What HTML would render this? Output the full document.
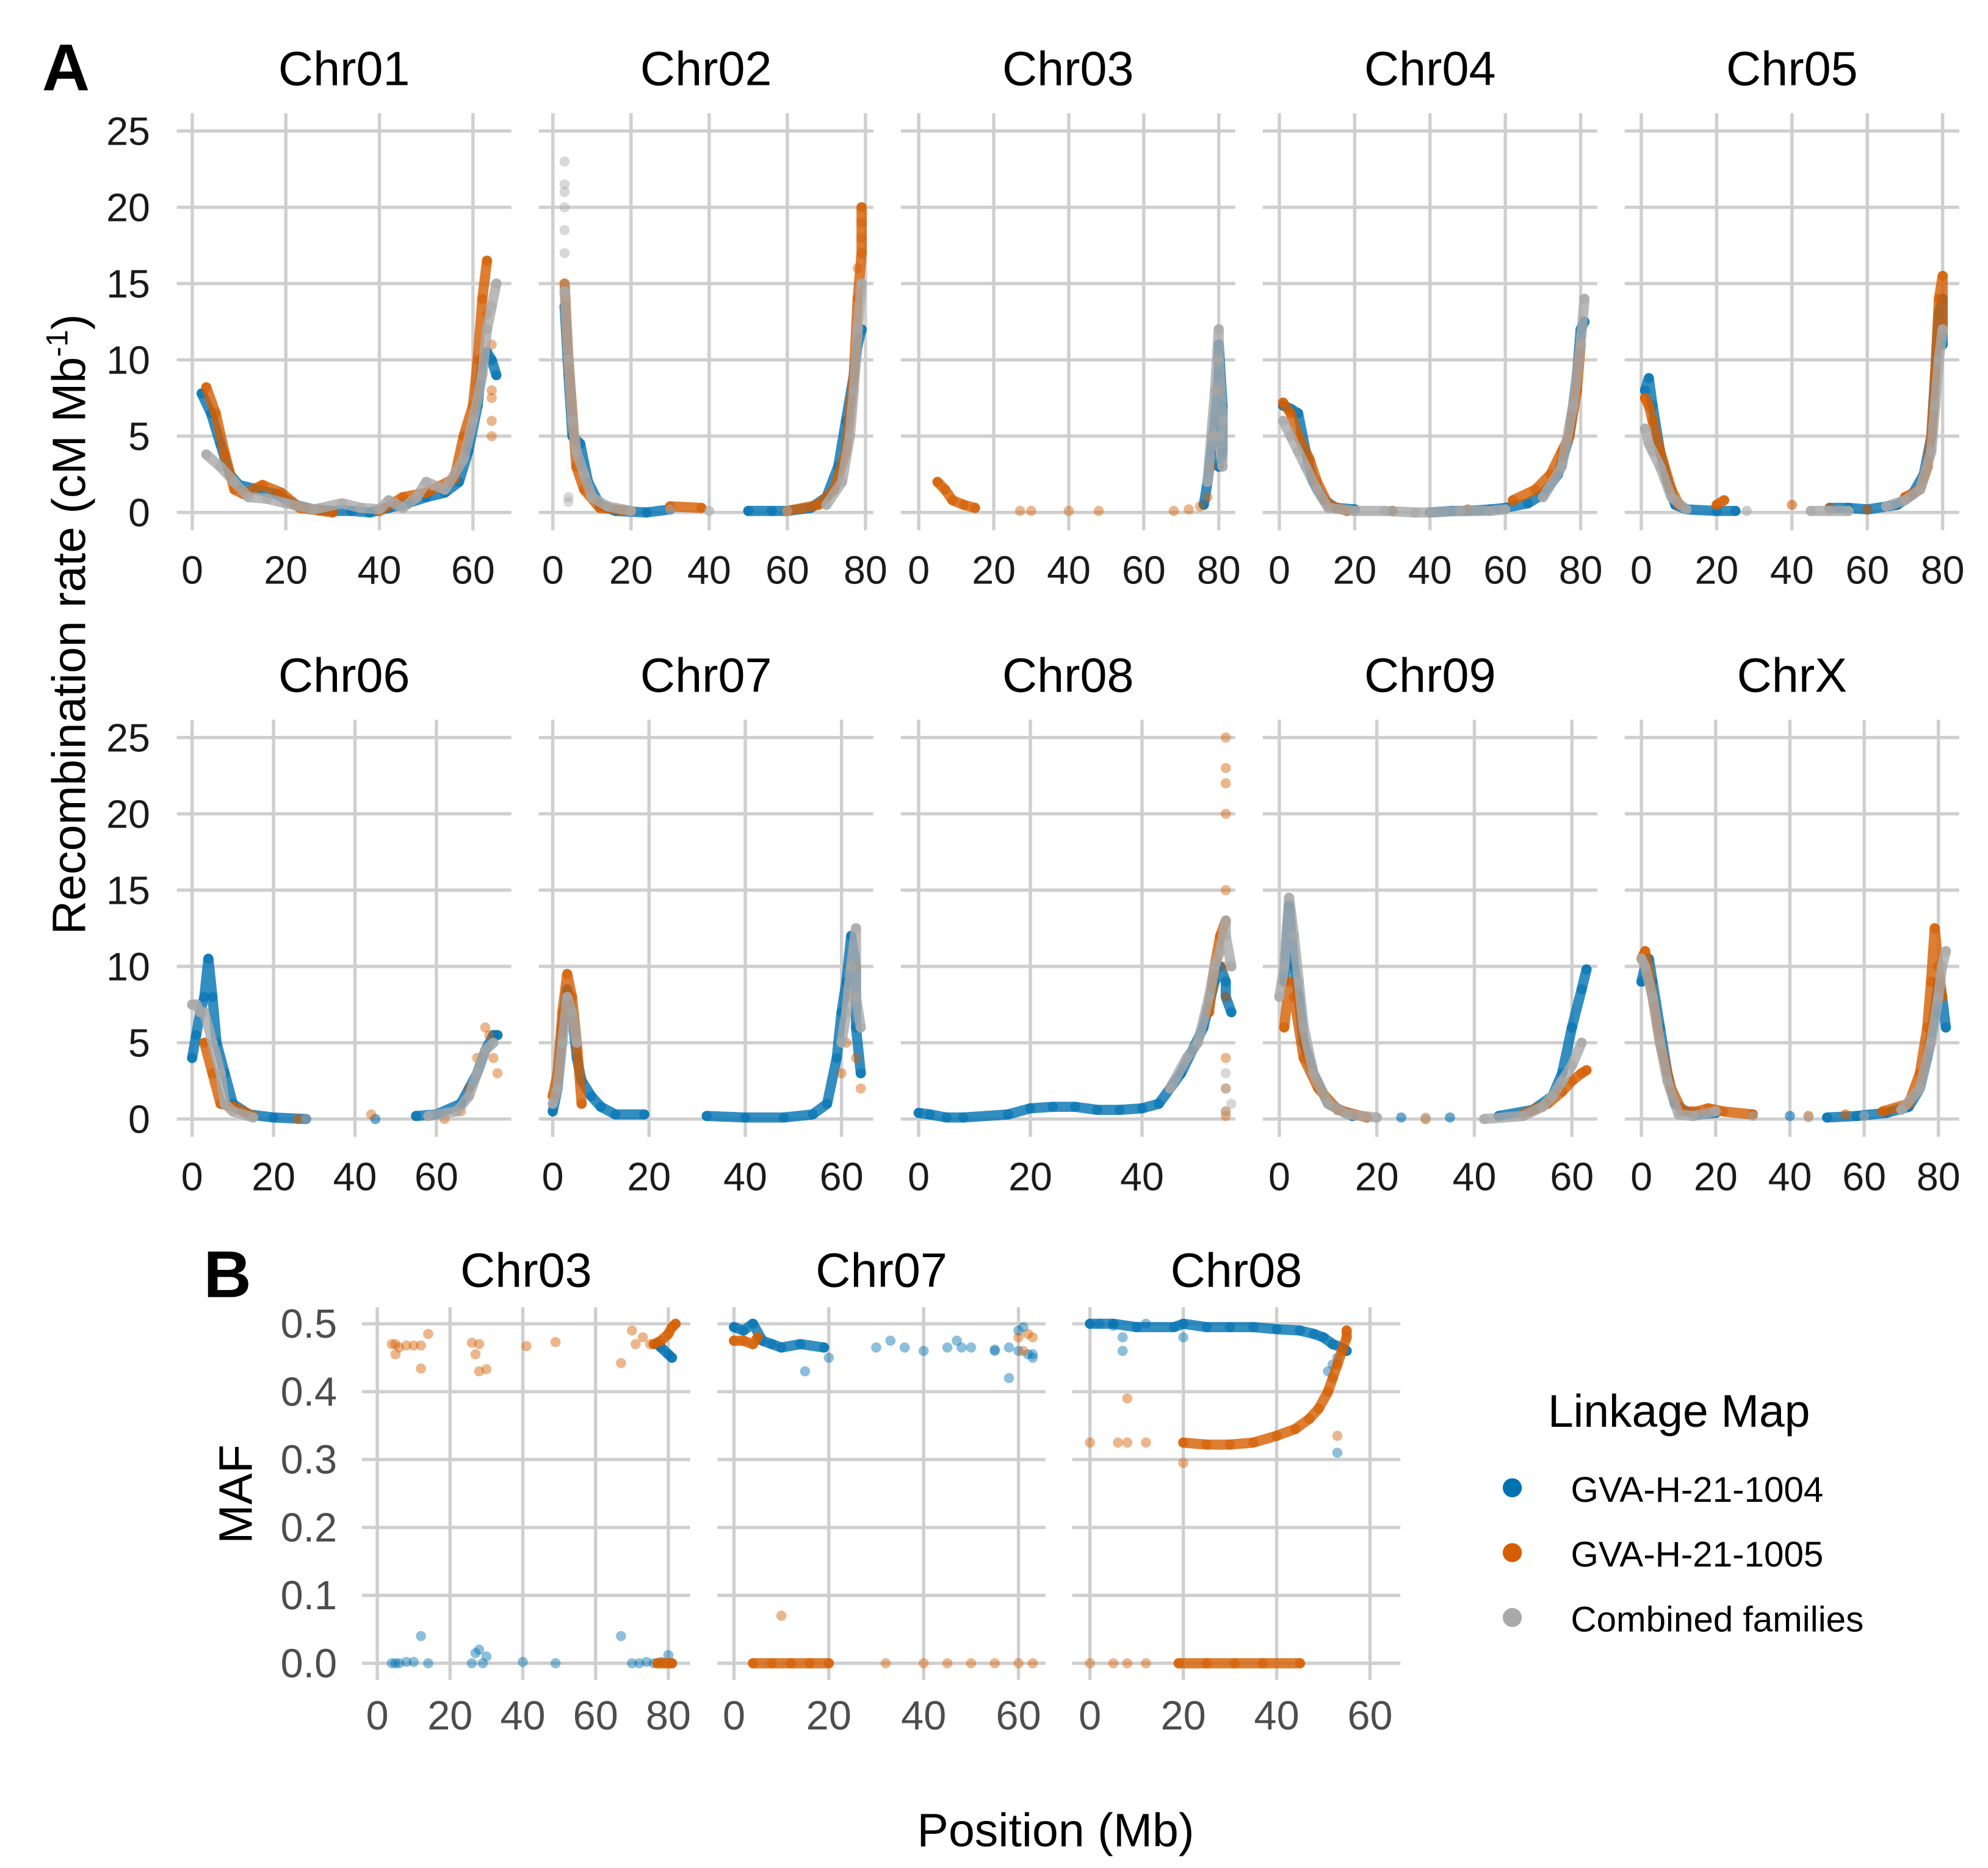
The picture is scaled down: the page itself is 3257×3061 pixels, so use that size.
<!DOCTYPE html>
<html><head><meta charset="utf-8"><style>
html,body{margin:0;padding:0;background:#fff}
svg{display:block}
text{font-family:"Liberation Sans",Arial,sans-serif}
</style></head><body>
<svg id="fig" width="3257" height="3061" viewBox="0 0 1563 1469" xmlns="http://www.w3.org/2000/svg">
<rect width="1563" height="1469" fill="#fff"/>
<g id="grid"></g><g id="marks"></g><g id="labels"></g>
<text x="33" y="71" font-size="52" font-weight="bold">A</text>
<text x="160" y="1020" font-size="52" font-weight="bold">B</text>
<text transform="translate(67,491) rotate(-90)" text-anchor="middle" font-size="37">Recombination rate (cM Mb<tspan font-size="24" dy="-14">-1</tspan><tspan dy="14">)</tspan></text>
<text transform="translate(198,1175) rotate(-90)" text-anchor="middle" font-size="37">MAF</text>
<text x="830" y="1452" text-anchor="middle" font-size="37">Position (Mb)</text>
<g>
<text x="1217" y="1122" font-size="36">Linkage Map</text>
<circle cx="1189" cy="1170" r="7.5" fill="#0072B2"/>
<text x="1235" y="1181" font-size="28">GVA-H-21-1004</text>
<circle cx="1189" cy="1221" r="7.5" fill="#D55E00"/>
<text x="1235" y="1232" font-size="28">GVA-H-21-1005</text>
<circle cx="1189" cy="1272" r="7.5" fill="#A9A9A9"/>
<text x="1235" y="1283" font-size="28">Combined families</text>
</g>
</svg>
<script>
// ---- data (Mb, value) ----
const chromA = ["Chr01","Chr02","Chr03","Chr04","Chr05","Chr06","Chr07","Chr08","Chr09","ChrX"];
const xDomainA = [[-3.3,68.2],[-3.6,82],[-4.8,84.4],[-4.4,84.4],[-4.4,84.4],[-3.75,78.4],[-2.9,66.6],[-3.2,56.7],[-3.4,65.2],[-4.5,85.6]];
const xTicksA = [[0,20,40,60],[0,20,40,60,80],[0,20,40,60,80],[0,20,40,60,80],[0,20,40,60,80],[0,20,40,60],[0,20,40,60],[0,20,40],[0,20,40,60],[0,20,40,60,80]];
const yTicksA = [0,5,10,15,20,25];
const yTicksB = [0,0.1,0.2,0.3,0.4,0.5];
const yTickLabelsB = ["0.0","0.1","0.2","0.3","0.4","0.5"];

const blueA = [
[[2,7.8],[4,6.5],[6,4.5],[8,2.5],[10,1.8],[14,1.5],[18,1.2],[22,0.5],[26,0.2],[30,0.1],[34,0.1],[38,0],[42,0.3],[46,0.6],[50,1],[54,1.3],[57,2],[59,4],[61,7],[62,10],[63,10.5],[64,10],[65,9]],
[[3,13.5],[4,9],[5,5],[7,4.5],[9,2],[12,0.5],[16,0.1],[24,0],[30,0.2],[50,0.1],[56,0.1],[60,0.1],[66,0.3],[70,1],[73,3],[75,6],[77,9],[78,11],[79,12]],
[[76,0.5],[77,2],[78,4],[79,6],[80,9],[80,11],[81,7],[81,4],[80,3]],
[[1,7],[3,6.8],[5,6.5],[7,4],[9,2],[12,0.8],[15,0.3],[20,0.2],[30,0.1],[40,0],[46,0.1],[50,0.1],[56,0.2],[60,0.3],[66,0.6],[70,1.2],[74,2.5],[77,5],[79,9],[80,12],[81,12.5]],
[[1,8],[2,8.8],[3,7],[5,4],[7,2],[9,0.5],[12,0.2],[20,0.1],[25,0.1],[50,0.3],[55,0.3],[60,0.2],[68,0.5],[72,1.2],[75,2.5],[77,5],[78,9],[79,13],[80,14],[80,11]],
[[0,4],[1,5.5],[2,7],[3,8],[4,10.5],[5,8],[6,5],[8,3],[10,1],[14,0.3],[20,0.1],[28,0],[45,0],[55,0.2],[60,0.3],[66,1],[68,2],[70,3],[72,4.5],[74,5.5],[75,5.5]],
[[0,0.5],[1,2],[2,6],[3,8.5],[4,7],[5,4],[6,2.5],[8,1.5],[10,0.8],[13,0.3],[19,0.3],[32,0.2],[40,0.1],[48,0.1],[54,0.3],[57,1],[59,4],[60,7],[61,9],[62,12],[63,10],[63,6],[64,3]],
[[0,0.4],[2,0.3],[5,0.1],[8,0.1],[16,0.3],[20,0.7],[24,0.8],[28,0.8],[32,0.6],[36,0.6],[40,0.7],[43,1],[45,2],[47,3],[49,4.5],[51,6],[53,9],[54,10],[55,9],[55,8],[56,7]],
[[1,9],[2,14],[3,10],[4,8],[5,5],[7,3],[10,1],[15,0.2],[25,0.1],[35,0.1],[45,0.2],[52,0.6],[56,1.5],[58,3],[60,6],[62,8.5],[63,9.8]],
[[0,9],[1,10],[2,10.5],[3,9],[5,6],[7,3],[9,1],[12,0.5],[15,0.3],[20,0.4],[30,0.3],[40,0.2],[50,0.1],[58,0.2],[66,0.4],[72,0.8],[75,2],[77,4],[79,7],[80,9],[81,8],[82,6]]
];
const orangeA = [
[[3,8.2],[5,6.5],[7,3.8],[9,1.5],[11,1.2],[15,1.8],[19,1.3],[23,0.3],[30,0],[40,0.1],[45,1],[50,1.3],[56,2.2],[58,5],[60,7],[61,10],[62,14],[63,16.5]],
[[3,15],[4,10],[6,3],[8,1.5],[12,0.3],[20,0.1],[30,0.4],[38,0.3],[60,0.1],[68,0.5],[72,1.5],[75,4],[77,9],[78,14],[79,17],[79,20]],
[[5,2],[7,1.5],[9,0.8],[12,0.5],[15,0.3]],
[[1,7.2],[3,6.5],[5,5],[8,3.5],[10,2],[13,0.5],[18,0.1],[30,0.1],[50,0.2],[62,0.8],[68,1.5],[72,2.5],[75,4],[77,5],[79,8],[80,11]],
[[1,7.5],[2,7],[3,6],[5,4],[8,1.5],[10,0.5],[20,0.5],[22,0.8],[40,0.5],[50,0.3],[60,0.2],[70,1],[74,1.5],[76,3],[77,5],[78,9],[79,14],[80,15.5],[80,12]],
[[3,5],[5,3],[7,1],[10,0.8],[15,0.2],[26,0]],
[[0,1.5],[1,3],[2,7],[3,9.5],[4,8],[5,5],[6,1]],
[[52,7],[53,10],[54,12],[55,13]],
[[1,6],[2,9],[3,8],[5,4],[8,2],[12,0.6],[18,0.1],[30,0],[50,0.3],[55,1],[58,1.8],[60,2.5],[62,3],[63,3.2]],
[[0,10.5],[1,11],[3,8],[5,5],[8,2],[11,0.5],[15,0.5],[18,0.7],[22,0.5],[30,0.3],[45,0.2],[55,0.3],[65,0.5],[72,1],[75,3],[77,6],[78,9],[79,12.5],[80,10],[81,8]]
];
const orangeScatterA = [
[[63,12],[64,11],[64,8],[64,7.5],[64,6],[64,5],[63,13]],
[[79,19],[79,18],[78,16]],
[[27,0.1],[30,0.1],[40,0.1],[48,0.1],[68,0.1],[72,0.2],[75,0.4],[77,1],[78,3],[79,5],[80,8],[80,10]],
[],[],
[[44,0.3],[62,0],[66,0.5],[68,2],[70,4],[72,6],[73,5.5],[74,4],[75,3]],
[[60,3],[61,5],[62,8],[63,10],[63,4],[64,2]],
[[55,25],[55,23],[55,22],[55,20],[55,15],[55,10],[55,8],[55,4],[55,2],[55,0.5],[55,0.2]],
[],[]
];
const grayA = [
[[3,3.8],[6,3],[9,2],[12,1],[16,0.9],[20,0.6],[26,0.2],[32,0.6],[36,0.3],[40,0.2],[42,0.8],[45,0.3],[48,1],[50,2],[54,1.5],[58,3.5],[60,6],[62,9],[63,12],[64,13.5],[65,15]],
[[3,14.5],[4,10],[5,6],[6,4],[8,2.5],[10,1],[14,0.4],[20,0.1],[30,0.2],[40,0.1],[60,0.1],[70,0.5],[74,2],[76,5],[77,8],[78,12],[79,15]],
[[77,2],[78,5],[79,8],[80,12],[80,10],[81,6],[81,3],[80,5]],
[[1,6],[3,5],[5,4],[7,3],[10,1.5],[13,0.3],[20,0.1],[28,0.1],[36,0],[40,0],[48,0.1],[56,0.1],[60,0.2],[70,1],[75,3],[78,7],[80,11],[81,14]],
[[1,5.5],[2,4.5],[3,4],[5,3],[8,1],[12,0.2],[28,0.1],[45,0.1],[50,0.1],[55,0.1],[65,0.4],[70,0.8],[74,1.5],[77,4],[78,7],[79,10],[80,12]],
[[0,7.5],[1,7.5],[2,7],[3,7],[5,5],[7,3],[8,1],[10,0.5],[15,0.1],[28,0],[58,0.2],[65,0.5],[68,1.5],[70,3],[72,4.5],[74,5]],
[[0,1],[1,2],[2,5],[3,8],[4,7],[5,5],[60,5],[61,7],[62,10],[63,12.5],[63,8],[64,6]],
[[45,2],[48,4],[50,5],[52,8],[53,10],[54,11],[55,13],[55,12],[56,10]],
[[0,8],[1,10],[2,14.5],[3,12],[4,9],[5,6],[7,3],[10,1],[14,0.3],[20,0.1],[30,0.1],[42,0],[50,0.2],[54,0.8],[56,1.5],[58,2.5],[60,3.5],[62,5]],
[[0,10.5],[1,10],[3,8],[5,5],[7,2.5],[10,0.3],[14,0.2],[20,0.5],[30,0.2],[45,0.1],[60,0.2],[70,0.6],[75,2],[78,5],[80,8],[81,10],[82,11]]
];
const grayScatterA = [
[],
[[3,23],[3,21.5],[3,21],[3,20],[3,18.5],[3,17],[3,15],[4,1],[4,0.7]],
[],[],[],[],[],
[[55,3],[55,2],[55,0.5],[56,1]],
[],[]
];

const chromB = ["Chr03","Chr07","Chr08"];
const xDomainB = [[-4.2,86],[-3.5,65.7],[-3.8,66.5]];
const xTicksB = [[0,20,40,60,80],[0,20,40,60],[0,20,40,60]];
const blueB = [
[[77,0.47],[78,0.465],[80,0.455],[81,0.45]],
[[0,0.495],[2,0.49],[4,0.5],[6,0.475],[8,0.47],[10,0.465],[14,0.47],[19,0.465]],
[[0,0.5],[5,0.5],[10,0.495],[18,0.495],[20,0.5],[25,0.495],[30,0.495],[35,0.495],[40,0.492],[45,0.49],[48,0.485],[50,0.48],[52,0.47],[54,0.465],[55,0.46]]
];
const blueScatterB = [
[[4,0],[5,0],[6,0],[8,0.002],[10,0.002],[12,0.04],[14,0],[26,0],[27,0.015],[28,0.02],[29,0],[30,0.01],[40,0.002],[49,0],[67,0.04],[70,0],[72,0],[74,0.002],[76,0],[78,0.002],[80,0.012],[81,0]],
[[15,0.43],[20,0.45],[30,0.465],[33,0.475],[36,0.465],[40,0.46],[45,0.465],[47,0.475],[50,0.465],[55,0.46],[58,0.465],[60,0.46],[62,0.455],[63,0.45],[58,0.42],[60,0.49],[61,0.495],[48,0.465],[55,0.462],[63,0.455]],
[[2,0.5],[5,0.497],[7,0.48],[7,0.46],[12,0.5],[20,0.48],[51,0.43],[52,0.44],[53,0.31],[53,0.45]]
];
const orangeB = [
[[76,0.47],[78,0.475],[80,0.485],[81,0.495],[82,0.5]],
[[0,0.475],[2,0.475],[4,0.47],[5,0.48]],
[[20,0.325],[25,0.322],[30,0.322],[35,0.325],[40,0.335],[44,0.345],[47,0.36],[49,0.375],[51,0.4],[52,0.42],[53,0.44],[54,0.46],[55,0.48],[55,0.49]]
];
const orangeZeroB = [[[77,0],[79,0],[81,0]],[[4,0],[8,0],[12,0],[16,0],[20,0]],[[19,0],[25,0],[31,0],[37,0],[45,0]]];
const orangeScatterB = [
[[4,0.47],[5,0.47],[6,0.465],[5,0.455],[8,0.468],[10,0.468],[12,0.434],[12,0.468],[14,0.485],[26,0.472],[27,0.455],[28,0.47],[28,0.43],[30,0.433],[41,0.467],[49,0.473],[67,0.442],[70,0.49],[71,0.47],[73,0.48],[75,0.47]],
[[60,0.48],[62,0.485],[63,0.48],[61,0.46],[10,0.07],[32,0],[40,0],[45,0],[50,0],[55,0],[60,0],[63,0]],
[[0,0.325],[6,0.325],[8,0.325],[8,0.39],[20,0.295],[12,0.325],[53,0.335],[0,0],[5,0],[8,0],[12,0]]
];

// ---- layout ----
const NS="http://www.w3.org/2000/svg";
const COL={blue:"#0072B2",orange:"#D55E00",gray:"#A9A9A9"};
const MAXGAP=8;
function mk(tag,attrs,parent){const e=document.createElementNS(NS,tag);for(const k in attrs)e.setAttribute(k,attrs[k]);parent.appendChild(e);return e;}
const gGrid=document.getElementById('grid'),gMarks=document.getElementById('marks'),gLab=document.getElementById('labels');

function drawPanel(p){
  const xs=v=>p.x0+(v-p.dom[0])/(p.dom[1]-p.dom[0])*p.w;
  const ys=v=>p.yb+(v-p.ymin)/(p.ymax-p.ymin)*(p.yt-p.yb);
  const g=mk('g',{},gGrid);
  
  
  p.yticks.forEach((t,i)=>{
    const l=mk('line',{x1:p.x0,x2:p.x0+p.w,y1:ys(t),y2:ys(t),stroke:'#cfcfcf','stroke-width':2.6},g);
    
    
    if(p.showY){
      const tx=mk('text',{x:p.ylabX,y:ys(t)+11,'text-anchor':'end','font-size':p.fs,fill:p.tcol},gLab);
      tx.textContent=p.ylabels?p.ylabels[i]:String(t);
      
      
    }
  });
  p.xticks.forEach(t=>{
    const l=mk('line',{x1:xs(t),x2:xs(t),y1:p.gTop,y2:p.gBot,stroke:'#cfcfcf','stroke-width':2.6},g);
    
    
    const tx=mk('text',{x:xs(t),y:p.xlabY,'text-anchor':'middle','font-size':p.fs,fill:p.tcol},gLab);
    tx.textContent=String(t);
    
    
  });
  const st=mk('text',{x:p.x0+p.w/2,y:p.stripY,'text-anchor':'middle','font-size':38},gLab);
  st.textContent=p.title;
  
  
  const m=mk('g',{},gMarks);
  
  
  p.series.forEach(s=>{
    if(!s.pts||!s.pts.length)return;
    if(s.curve&&s.pts.length>1){
      // split into runs wherever consecutive points are far apart in position
      let runs=[[s.pts[0]]];
      for(let k=1;k<s.pts.length;k++){
        if(Math.abs(s.pts[k][0]-s.pts[k-1][0])>MAXGAP)runs.push([]);
        runs[runs.length-1].push(s.pts[k]);
      }
      runs.forEach(run=>{
        if(run.length<2)return;
        const pl=mk('polyline',{points:run.map(q=>xs(q[0])+','+ys(q[1])).join(' '),fill:'none',stroke:COL[s.c],'stroke-width':8,'stroke-linecap':'round','stroke-linejoin':'round','stroke-opacity':0.8},m);
        
        
      });
    }
    s.pts.forEach(q=>{
      const c=mk('circle',{cx:xs(q[0]),cy:ys(q[1]),r:4,fill:COL[s.c],'fill-opacity':s.curve?0.6:0.45},m);
      
      
    });
  });
}

chromA.forEach((ch,i)=>{
  const r=Math.floor(i/5),c=i%5;
  drawPanel({id:ch.toLowerCase()+'-a',title:ch,x0:139+c*284.6,w:263,dom:xDomainA[i],
    ymin:0,ymax:25,yb:403+r*477,yt:103+r*477,gTop:89+r*477,gBot:417+r*477,
    yticks:yTicksA,xticks:xTicksA[i],showY:c===0,ylabX:118,fs:31,tcol:'#1a1a1a',
    xlabY:459+r*477,stripY:67+r*477,
    series:[{c:'blue',pts:blueA[i],curve:true},{c:'orange',pts:orangeA[i],curve:true},{c:'orange',pts:orangeScatterA[i]},
            {c:'gray',pts:grayA[i],curve:true},{c:'gray',pts:grayScatterA[i]}]});
});
const bX=[284.6,564,843];
chromB.forEach((ch,i)=>{
  drawPanel({id:ch.toLowerCase()+'-b',title:ch,x0:bX[i],w:258,dom:xDomainB[i],
    ymin:0,ymax:0.5,yb:1308,yt:1041,gTop:1028,gBot:1321,
    yticks:yTicksB,ylabels:yTickLabelsB,xticks:xTicksB[i],showY:i===0,ylabX:265,fs:32,tcol:'#4d4d4d',
    xlabY:1360,stripY:1012,
    series:[{c:'blue',pts:blueB[i],curve:true},{c:'blue',pts:blueScatterB[i]},
            {c:'orange',pts:orangeB[i],curve:true},{c:'orange',pts:orangeZeroB[i],curve:true},{c:'orange',pts:orangeScatterB[i]}]});
});
</script>
</body></html>
